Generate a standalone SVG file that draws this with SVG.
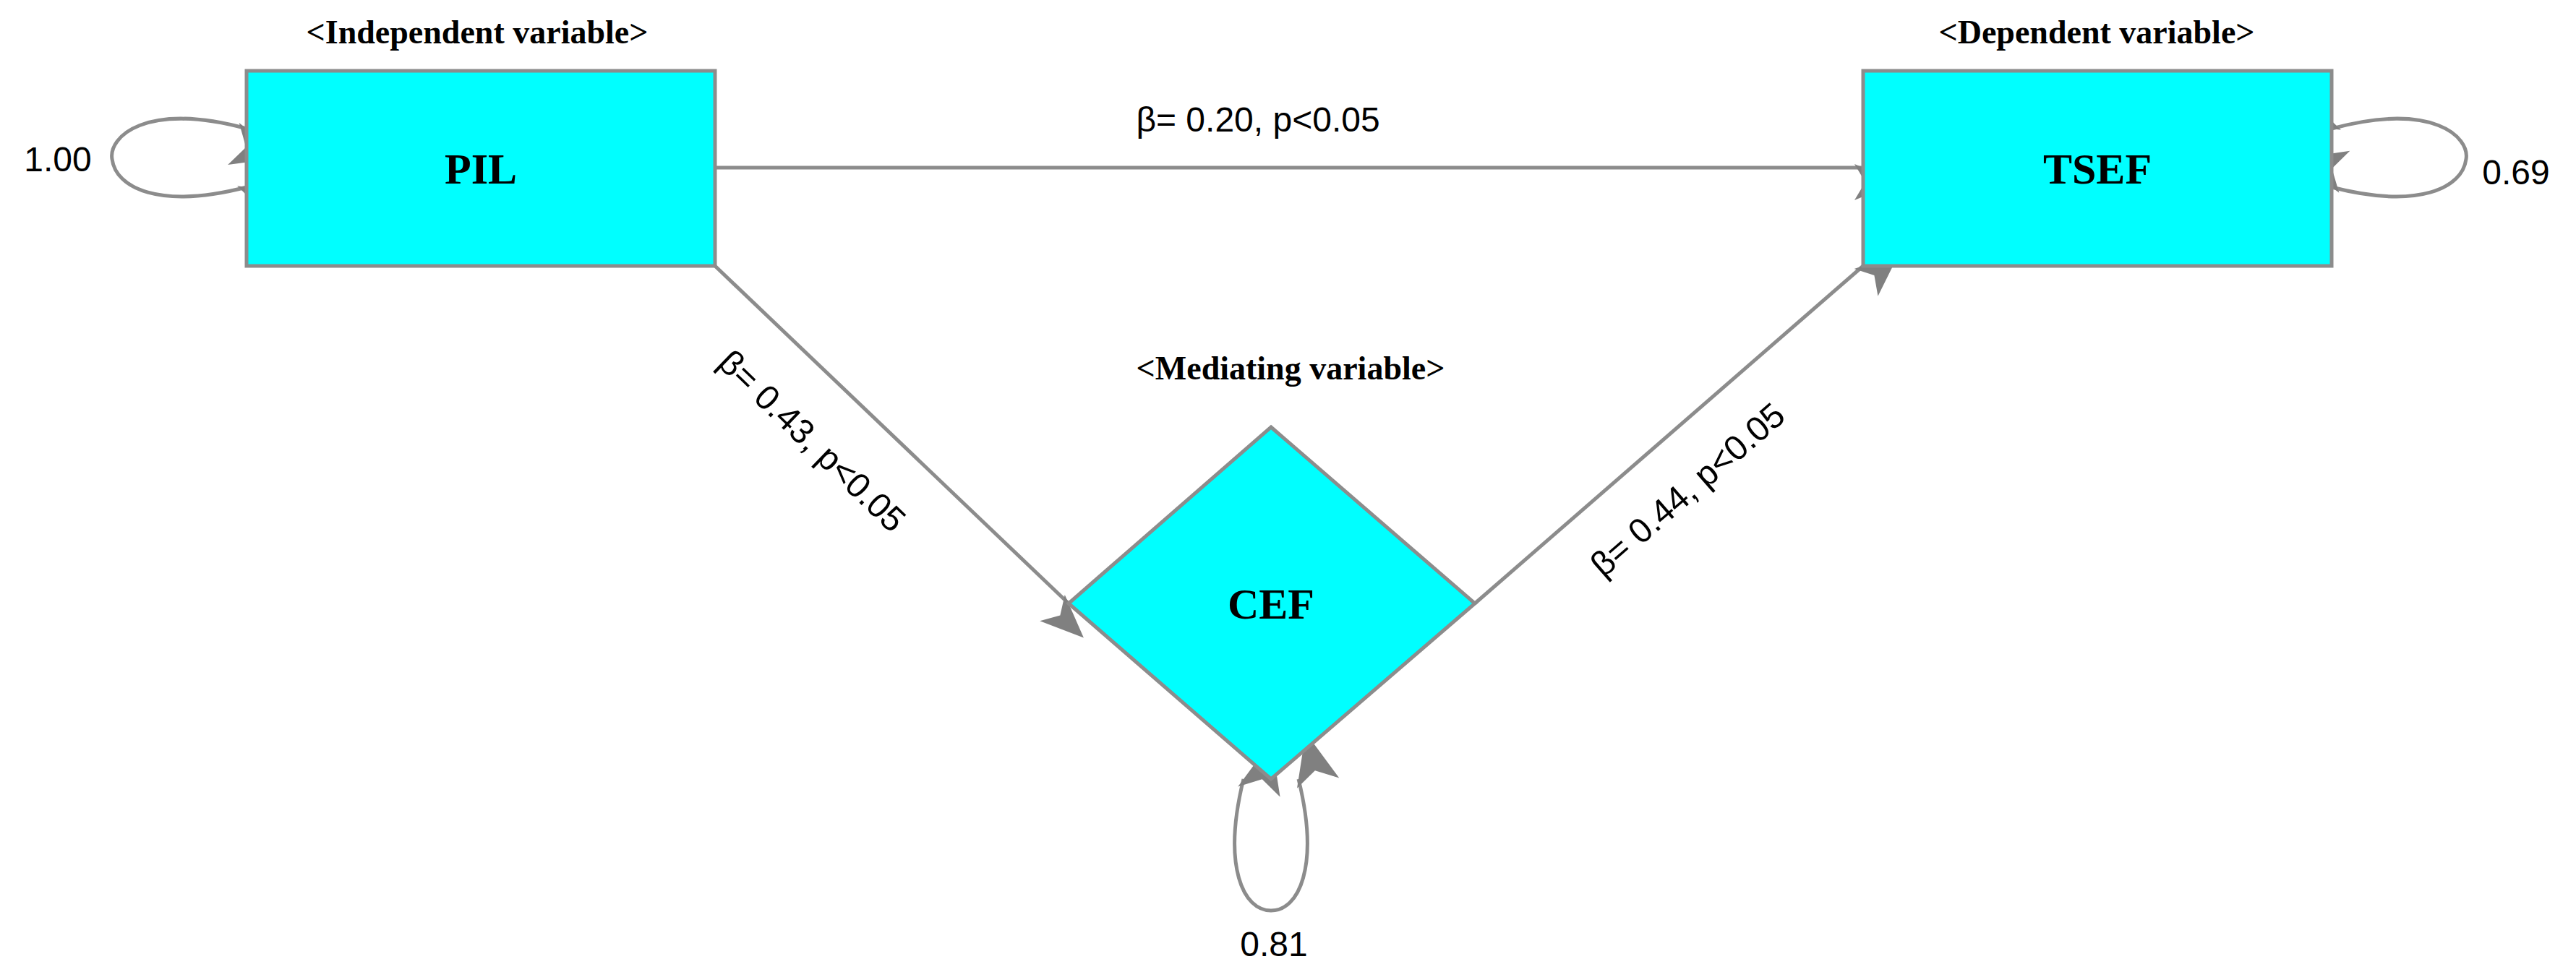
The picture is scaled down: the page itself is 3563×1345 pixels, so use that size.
<svg xmlns="http://www.w3.org/2000/svg" width="3563" height="1345" viewBox="0 0 3563 1345">
<style>
.node{fill:#00FFFF;stroke:#8c8c8c;stroke-width:5}
.nt{font-family:"Liberation Serif",serif;font-weight:bold;font-size:60px;text-anchor:middle}
.cap{font-family:"Liberation Serif",serif;font-weight:bold;font-size:46px;text-anchor:middle}
.lab{font-family:"Liberation Sans",sans-serif;font-size:48px;text-anchor:middle}
.ed{fill:none;stroke:#8c8c8c;stroke-width:5}
</style>
<defs>
<marker id="ah" viewBox="0 0 12 10" refX="12" refY="5" markerWidth="12" markerHeight="10" markerUnits="userSpaceOnUse" orient="auto" style="overflow:visible">
<path d="M0,0 L12,5 L0,10 L3,5 Z" fill="#808080" transform="scale(5)"/>
</marker>
<marker id="lp" viewBox="0 0 12 10" refX="12" refY="5" markerWidth="12" markerHeight="10" markerUnits="userSpaceOnUse" orient="auto-start-reverse" style="overflow:visible">
<path d="M0,0 L12,5 L0,10 L3,5 Z" fill="#808080" transform="scale(6)"/>
</marker>
</defs>
<rect width="3563" height="1345" fill="#fff"/>
<g id="connectors">
<line class="ed" x1="989" y1="232" x2="2577" y2="232" marker-end="url(#ah)"/>
<line class="ed" x1="989" y1="368" x2="1478" y2="835" marker-end="url(#ah)"/>
<line class="ed" x1="2040" y1="835" x2="2577" y2="368" marker-end="url(#ah)"/>
<path class="ed" d="M341,178 C200,140 150,190 155,220 C160,260 220,290 341,259" marker-start="url(#lp)" marker-end="url(#lp)"/>
<path class="ed" d="M3225,178 C3366,140 3416,190 3411,220 C3406,260 3346,290 3225,259" marker-start="url(#lp)" marker-end="url(#lp)"/>
<path class="ed" d="M1720,1078 C1690,1200 1720,1260 1758,1260 C1796,1260 1826,1200 1796,1078" marker-start="url(#lp)" marker-end="url(#lp)"/>
<text class="lab" x="1740" y="182">β= 0.20, p&lt;0.05</text>
<text class="lab" transform="translate(1112,622) rotate(44)">β= 0.43, p&lt;0.05</text>
<text class="lab" transform="translate(2345,690) rotate(-41)">β= 0.44, p&lt;0.05</text>
<text class="lab" x="80" y="237">1.00</text>
<text class="lab" x="3480" y="255">0.69</text>
<text class="lab" x="1762" y="1323">0.81</text>
</g>
<g id="PIL">
<rect class="node" x="341" y="98" width="648" height="270"/>
<text class="nt" x="665" y="254">PIL</text>
<text class="cap" x="660" y="60">&lt;Independent variable&gt;</text>
</g>
<g id="TSEF">
<rect class="node" x="2577" y="98" width="648" height="270"/>
<text class="nt" x="2901" y="254">TSEF</text>
<text class="cap" x="2900" y="60">&lt;Dependent variable&gt;</text>
</g>
<g id="CEF">
<polygon class="node" points="1758,591 2040,835 1758,1078 1478,835"/>
<text class="nt" x="1758" y="856">CEF</text>
<text class="cap" x="1785" y="525">&lt;Mediating variable&gt;</text>
</g>
</svg>
